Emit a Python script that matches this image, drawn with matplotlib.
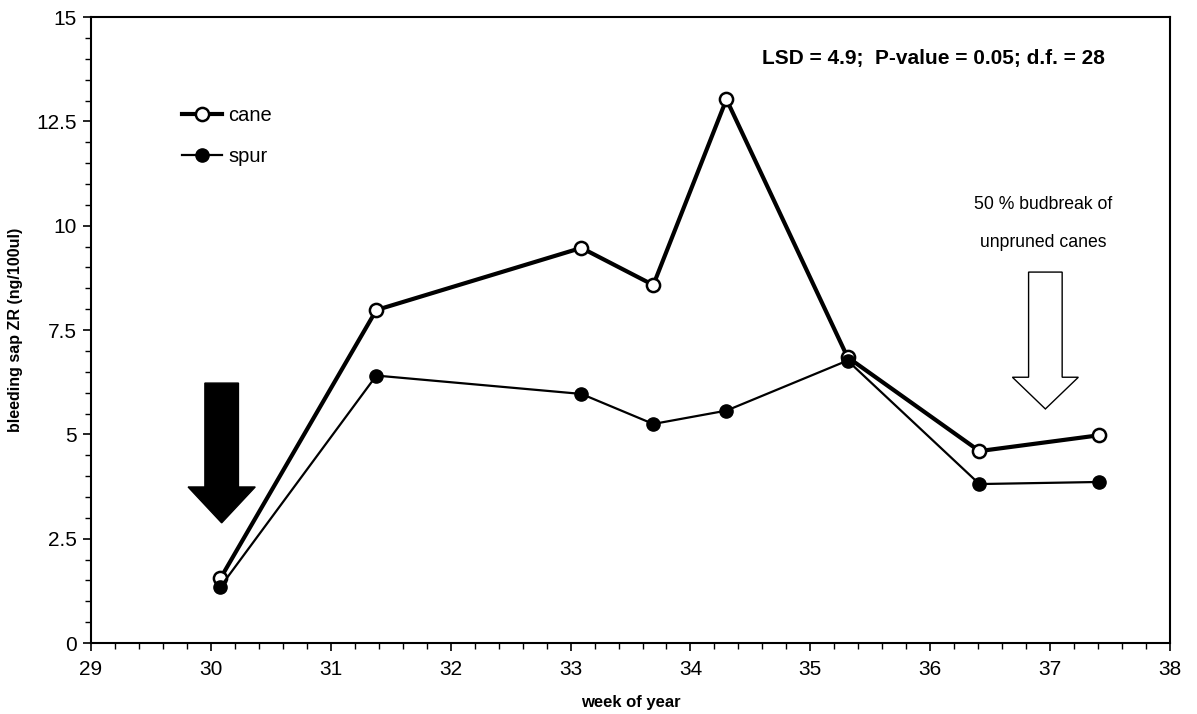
import matplotlib
matplotlib.use("Agg")
import matplotlib.pyplot as plt
from matplotlib.patches import FancyArrow
from matplotlib.ticker import MultipleLocator

plt.rcParams['font.family'] = ['Liberation Sans', 'DejaVu Sans']

weeks = [30.08, 31.38, 33.09, 33.69, 34.3, 35.31, 36.41, 37.41]
cane = [1.55, 7.98, 9.47, 8.58, 13.03, 6.85, 4.60, 4.98]
spur = [1.35, 6.41, 5.97, 5.25, 5.57, 6.77, 3.81, 3.86]

x_ticks = list(range(29, 39))
y_ticks = [0, 2.5, 5, 7.5, 10, 12.5, 15]
y_tick_labels = ["0", "2.5", "5", "7.5", "10", "12.5", "15"]

fig = plt.figure(figsize=(11.97, 7.14), dpi=100)
ax = fig.add_axes([0.076, 0.0994, 0.9015, 0.8766])

ax.plot(weeks, cane, color='black', lw=3.0, marker='o', ms=9.5,
        mfc='white', mec='black', mew=1.8, label='cane', zorder=3)
ax.plot(weeks, spur, color='black', lw=1.6, marker='o', ms=9.5,
        mfc='black', mec='black', label='spur', zorder=4)

ax.set_xlim(29, 38)
ax.set_ylim(0, 15)
ax.set_xticks(x_ticks)
ax.set_yticks(y_ticks)
ax.set_yticklabels(y_tick_labels)
ax.xaxis.set_minor_locator(MultipleLocator(0.2))
ax.yaxis.set_minor_locator(MultipleLocator(0.5))
ax.tick_params(which='major', direction='out', length=6, width=1.2, labelsize=15, pad=4)
ax.tick_params(which='minor', direction='out', length=4, width=1.0)
ax.tick_params(axis='x', pad=6)
for s in ax.spines.values():
    s.set_linewidth(1.5)

ax.set_xlabel('week of year', fontsize=12, fontweight='bold', labelpad=12)
ax.set_ylabel('bleeding sap ZR (ng/100ul)', fontsize=11.5, fontweight='bold', labelpad=10)

# black arrow (pruning)
ax.add_patch(FancyArrow(30.09, 6.23, 0, -(6.23 - 2.88),
                        width=0.28, head_width=0.56, head_length=0.86,
                        length_includes_head=True, facecolor='black',
                        edgecolor='black', zorder=2))
# white arrow (budbreak)
ax.add_patch(FancyArrow(36.96, 8.89, 0, -(8.89 - 5.61),
                        width=0.28, head_width=0.55, head_length=0.76,
                        length_includes_head=True, facecolor='white',
                        edgecolor='black', lw=1.0, zorder=2))

ax.text(36.94, 10.5, '50 % budbreak of', ha='center', va='center', fontsize=12.7)
ax.text(36.94, 9.61, 'unpruned canes', ha='center', va='center', fontsize=12.7)
ax.text(37.46, 14.02, 'LSD = 4.9;  P-value = 0.05; d.f. = 28', ha='right', va='center',
        fontsize=15, fontweight='bold')

leg = ax.legend(loc='center left', bbox_to_anchor=(0.0675, 0.81), frameon=False,
                fontsize=14.5, handlelength=2.0, handletextpad=0.3, labelspacing=1.1)

fig.savefig('out.png', dpi=100)
